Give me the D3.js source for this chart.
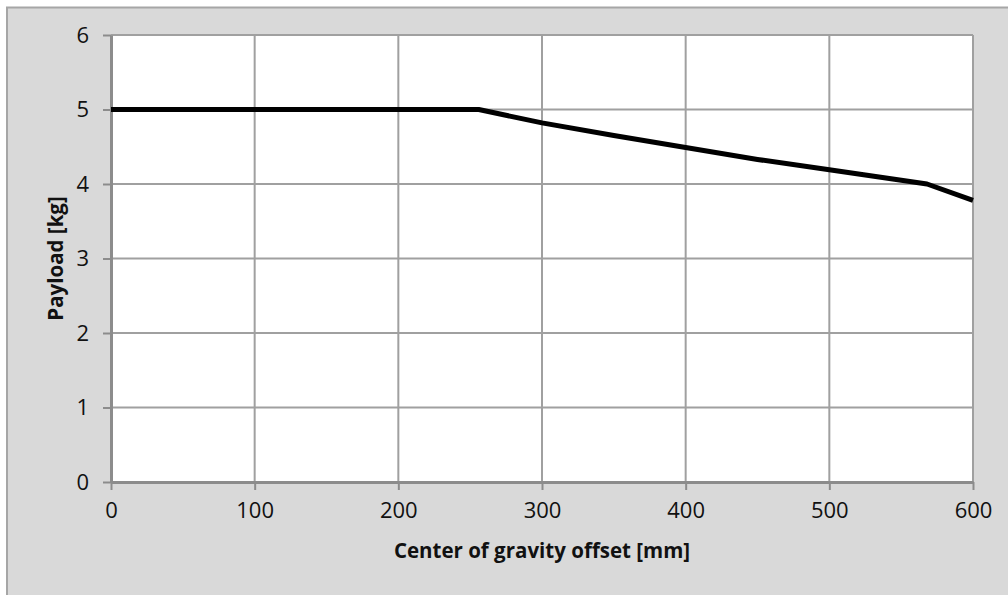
<!DOCTYPE html>
<html>
<head>
<meta charset="utf-8">
<script src="https://cdn.jsdelivr.net/npm/d3@7"></script>
<style>
  body { margin: 0; background: #fff; }
  svg { display: block; font-family: "Open Sans", sans-serif; }
</style>
</head>
<body>
<svg id="chart" width="1008" height="595"></svg>
<script>
// data
const offsets = [0, 256, 300, 350, 400, 450, 500, 568, 600];
const payloads = [5, 5, 4.82, 4.65, 4.49, 4.33, 4.19, 4.0, 3.78];
const xTicks = [0, 100, 200, 300, 400, 500, 600];
const yTicks = [0, 1, 2, 3, 4, 5, 6];

const margin = { top: 35, right: 35, bottom: 113, left: 111 };
const width = 1008 - margin.left - margin.right;
const height = 595 - margin.top - margin.bottom;

const svg = d3.select('#chart');

// chart area background with border
svg.append('rect')
    .attr('x', 7)
    .attr('y', 7.5)
    .attr('width', 1010)
    .attr('height', 600)
    .attr('fill', '#d9d9d9')
    .attr('stroke', '#a6a6a6')
    .attr('stroke-width', 2);

const g = svg.append('g')
    .attr('transform', `translate(${margin.left}, ${margin.top})`);

const x = d3.scaleLinear()
    .domain([0, 600])
    .range([0, width]);

const y = d3.scaleLinear()
    .domain([0, 6])
    .range([height, 0]);

g.append('rect')
    .attr('width', width)
    .attr('height', height)
    .attr('fill', 'white');

// gridlines
g.append('g')
    .attr('class', 'grid')
  .selectAll('line.v')
  .data(xTicks)
  .join('line')
    .attr('x1', d => x(d))
    .attr('x2', d => x(d))
    .attr('y1', 0)
    .attr('y2', height)
    .attr('stroke', '#a0a0a0')
    .attr('stroke-width', 2);

g.append('g')
    .attr('class', 'grid')
  .selectAll('line.h')
  .data(yTicks)
  .join('line')
    .attr('x1', 0)
    .attr('x2', width)
    .attr('y1', d => y(d))
    .attr('y2', d => y(d))
    .attr('stroke', '#a0a0a0')
    .attr('stroke-width', 2);

// axes
const xAxis = d3.axisBottom(x)
    .tickValues(xTicks)
    .tickFormat(d3.format('d'))
    .tickSize(8)
    .tickPadding(12)
    .tickSizeOuter(0);

const yAxis = d3.axisLeft(y)
    .tickValues(yTicks)
    .tickFormat(d3.format('d'))
    .tickSize(8)
    .tickPadding(14)
    .tickSizeOuter(0);

const styleTicks = a => a.selectAll('.tick text')
    .attr('font-size', 22)
    .attr('font-family', '"Open Sans", sans-serif')
    .attr('fill', '#111');

g.append('g')
    .attr('class', 'x axis')
    .attr('transform', `translate(0, ${height})`)
    .call(xAxis)
    .call(a => a.select('.domain').attr('stroke', '#8c8c8c').attr('stroke-width', 3))
    .call(a => a.selectAll('.tick line').attr('stroke', '#8c8c8c').attr('stroke-width', 2))
    .call(styleTicks);

g.append('g')
    .attr('class', 'y axis')
    .call(yAxis)
    .call(a => a.select('.domain').attr('stroke', '#8c8c8c').attr('stroke-width', 3))
    .call(a => a.selectAll('.tick line').attr('stroke', '#8c8c8c').attr('stroke-width', 2))
    .call(styleTicks);

// axis titles
g.append('text')
    .attr('x', width / 2)
    .attr('y', height + 68)
    .attr('text-anchor', 'middle')
    .attr('dominant-baseline', 'central')
    .attr('font-size', 20.5)
    .attr('font-weight', 'bold')
    .attr('fill', '#111')
    .text('Center of gravity offset [mm]');

g.append('text')
    .attr('transform', `translate(${-56}, ${height / 2}) rotate(-90)`)
    .attr('text-anchor', 'middle')
    .attr('dominant-baseline', 'central')
    .attr('font-size', 20.5)
    .attr('font-weight', 'bold')
    .attr('fill', '#111')
    .text('Payload [kg]');

// payload line
const line = d3.line()
    .x((d, i) => x(offsets[i]))
    .y(d => y(d));

g.append('path')
    .datum(payloads)
    .attr('fill', 'none')
    .attr('stroke', '#000')
    .attr('stroke-width', 5)
    .attr('stroke-linejoin', 'round')
    .attr('d', line);
</script>
</body>
</html>
